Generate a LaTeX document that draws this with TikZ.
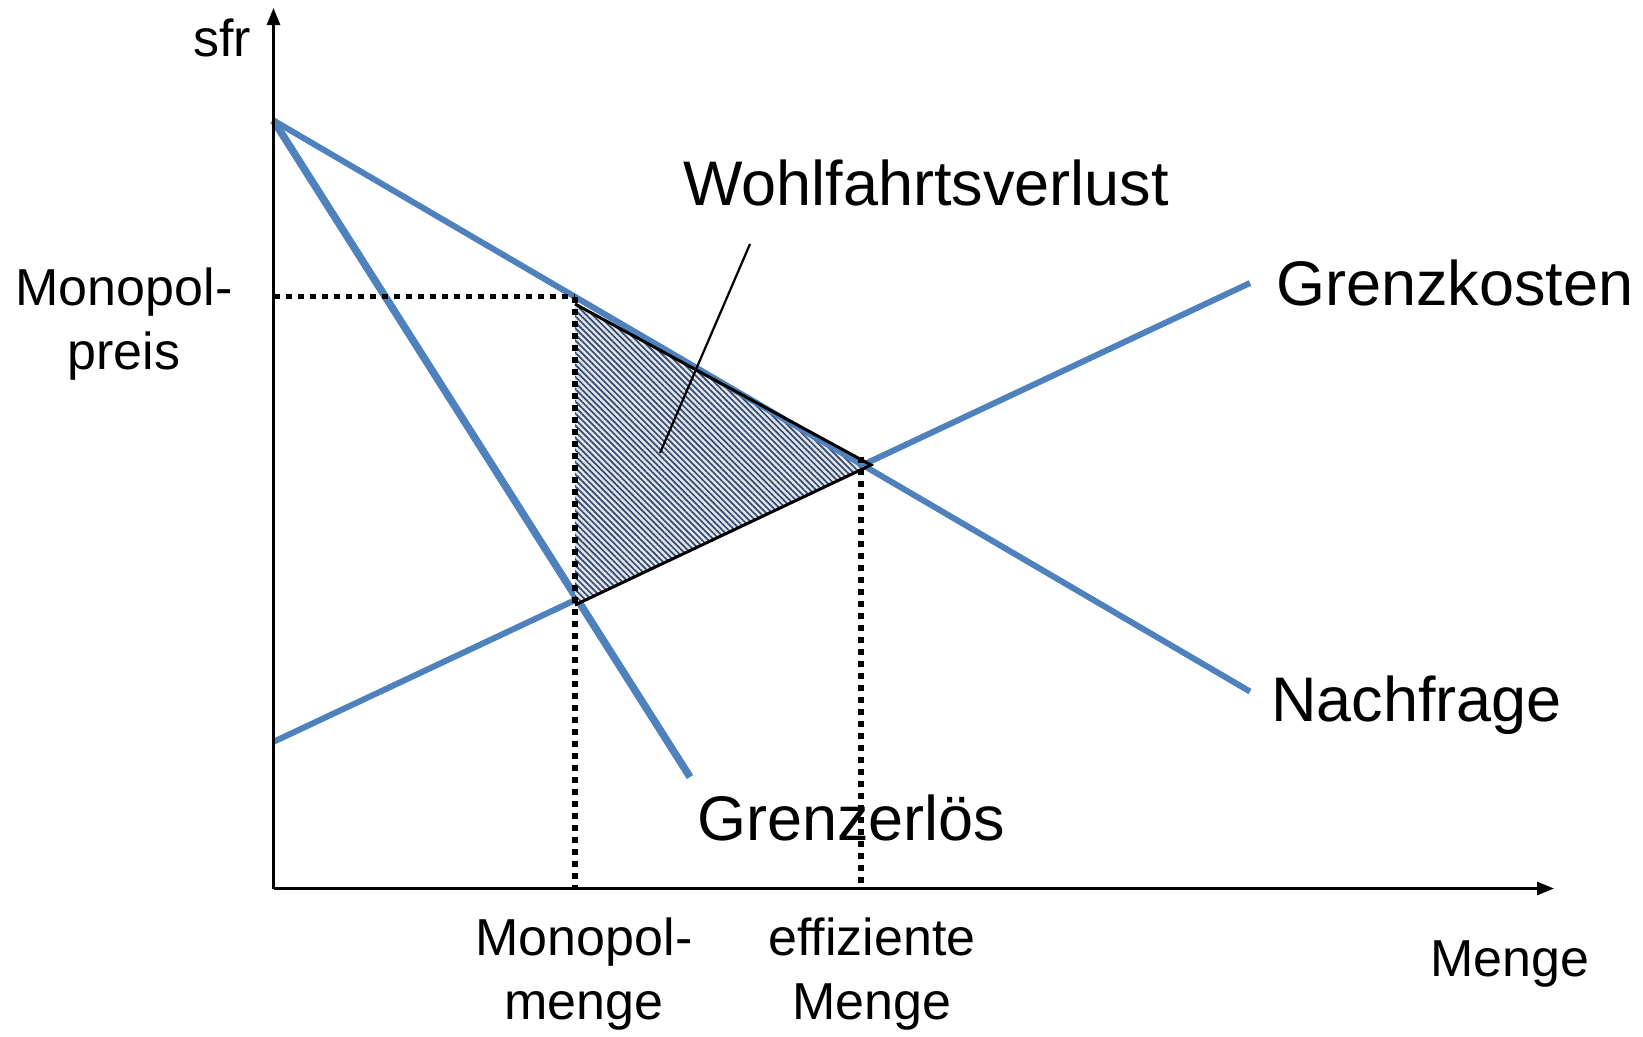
\documentclass[tikz,border=0pt]{standalone}
\usepackage{fontspec}
\setmainfont{Liberation Sans}
\usetikzlibrary{arrows.meta,patterns.meta}
\definecolor{curveblue}{HTML}{4F81BD}
\definecolor{hatchnavy}{HTML}{2F4B78}
\begin{document}
\begin{tikzpicture}[x=1pt,y=1pt,
  axis/.style={line width=2.7pt,-{Triangle[length=17pt,width=13pt]}},
  curve/.style={curveblue,line width=6pt},
  thickcurve/.style={curveblue,line width=7.5pt},
  dotline/.style={line width=5.5pt,dash pattern=on 6pt off 6pt},
  hatch/.style={pattern={Lines[angle=-45,distance=4.3pt,line width=1.7pt]},pattern color=hatchnavy},
  small/.style={font=\fontsize{52}{64}\selectfont,align=center,inner sep=0pt},
  big/.style={font=\fontsize{63}{76}\selectfont,inner sep=0pt}]
\useasboundingbox (0,0) rectangle (1643,-1036);
% coordinates
\coordinate (O) at (273.5,-888.5);
\coordinate (ytop) at (273.5,-8);
\coordinate (xend) at (1554,-888.5);
\coordinate (dA) at (273.5,-120.5);
\coordinate (dB) at (1250,-691.5);
\coordinate (geB) at (690,-777);
\coordinate (gkA) at (273.5,-741.8);
\coordinate (gkB) at (1250,-283);
\coordinate (pm) at (273.5,-296.5);
\coordinate (tTop) at (575,-304);
\coordinate (tRight) at (871,-465);
\coordinate (tBot) at (575,-605);
\coordinate (mTop) at (575,-296.5);
\coordinate (mBot) at (575,-888.5);
\coordinate (eTop) at (861,-457);
\coordinate (eBot) at (861,-888.5);
\coordinate (ptrA) at (750,-244);
\coordinate (ptrB) at (660,-453);
% curves
\draw[curve] (gkA) -- (gkB);
\draw[thickcurve] (dA) -- (geB);
% hatched triangle
\fill[gray!20] (tTop) -- (tRight) -- (tBot) -- cycle;
\fill[hatch] (tTop) -- (tRight) -- (tBot) -- cycle;
\draw[curve] (dA) -- (dB);
% triangle outline
\draw[line width=3pt,line join=miter] (tTop) -- (tRight) -- (tBot);
% dotted lines
\draw[dotline] (pm) -- (mTop);
\draw[dotline] (mTop) -- (mBot);
\draw[dotline] (eTop) -- (eBot);
% axes
\draw[axis] (O) -- (ytop);
\draw[axis] (O) -- (xend);
% pointer
\draw[line width=2.2pt] (ptrA) -- (ptrB);
% labels
\node[small] (sfr) at (222,-38) {sfr};
\node[small] (mp) at (124,-324) {Monopol-\\preis};
\node[small] (mm) at (584,-974) {Monopol-\\menge};
\node[small] (em) at (872,-974) {effiziente\\Menge};
\node[small] (menge) at (1510,-964) {Menge};
\node[big] (wv) at (926,-183) {Wohlfahrtsverlust};
\node[big,anchor=west] (gk) at (1276,-283) {Grenzkosten};
\node[big,anchor=west] (nf) at (1271,-705) {Nachfrage};
\node[big,anchor=west] (ge) at (697,-818) {Grenzerlös};
\end{tikzpicture}
\end{document}
